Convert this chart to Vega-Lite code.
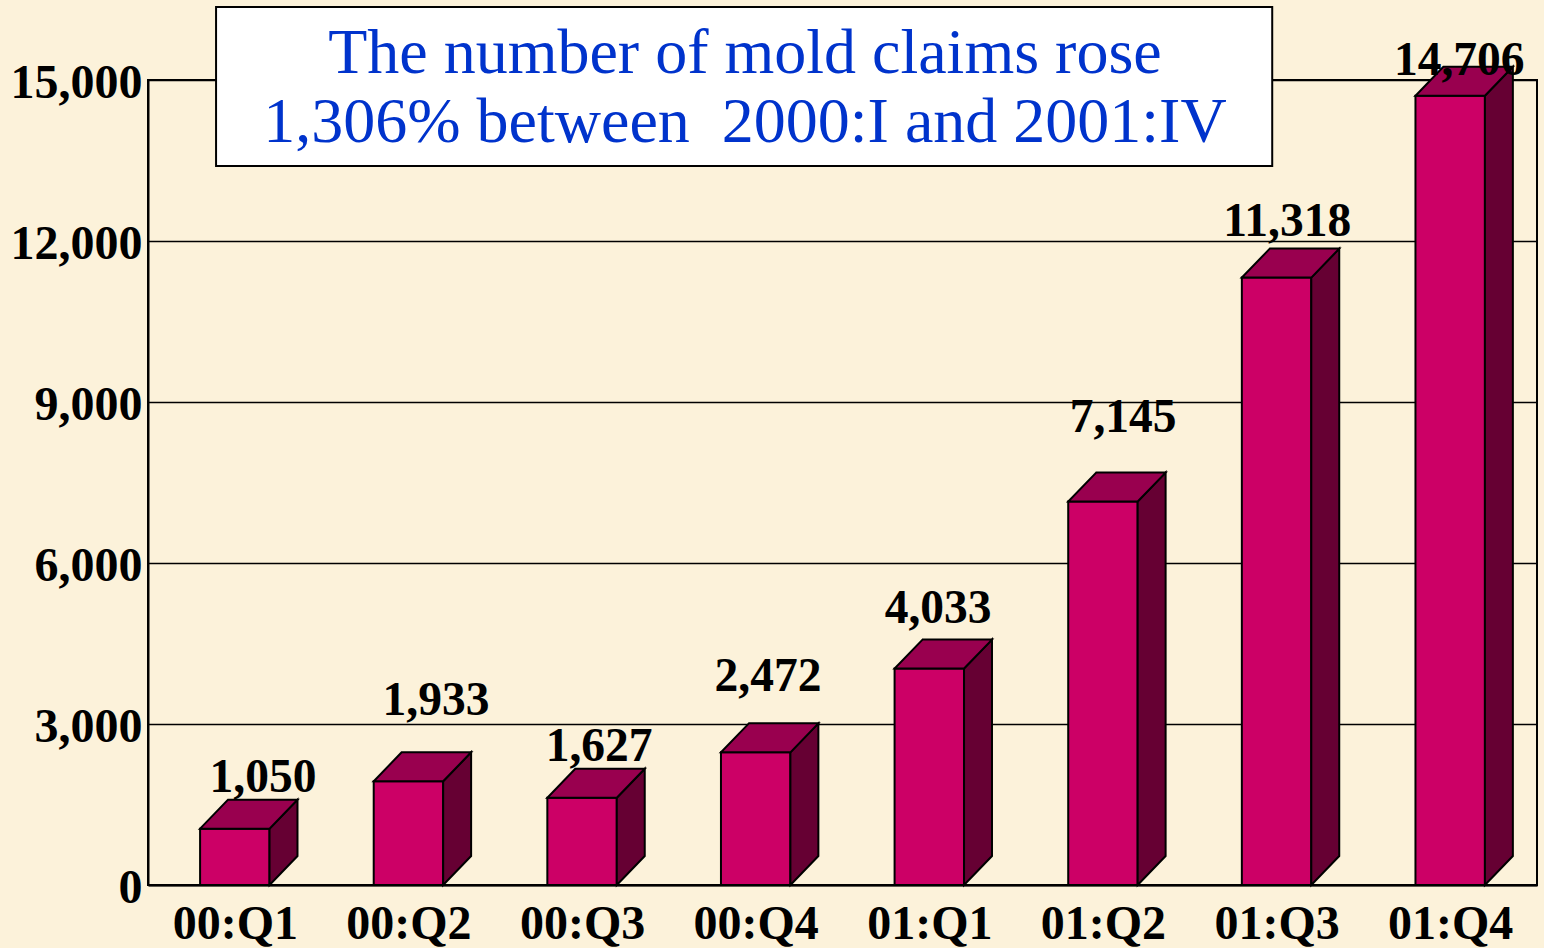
{
"$schema":"https://vega.github.io/schema/vega-lite/v6.json",
"width":1389,"height":805,
"autosize":"none",
"padding":{"left":148,"top":80,"right":7,"bottom":63},
"background":"#FCF2DA",
"config":{"view":{"stroke":"#000000","strokeWidth":2},"font":"Liberation Serif"},
"datasets":{
"claims":[
{"quarter":"00:Q1","claims":1050,"pos":0,"label_pos":0.162,"label_level":1730},
{"quarter":"00:Q2","claims":1933,"pos":1,"label_pos":1.159,"label_level":3170},
{"quarter":"00:Q3","claims":1627,"pos":2,"label_pos":2.098,"label_level":2310},
{"quarter":"00:Q4","claims":2472,"pos":3,"label_pos":3.071,"label_level":3620},
{"quarter":"01:Q1","claims":4033,"pos":4,"label_pos":4.051,"label_level":4880},
{"quarter":"01:Q2","claims":7145,"pos":5,"label_pos":5.116,"label_level":8440},
{"quarter":"01:Q3","claims":11318,"pos":6,"label_pos":6.061,"label_level":12100},
{"quarter":"01:Q4","claims":14706,"pos":7,"label_pos":7.052,"label_level":15090}
],
"note":[{"left":-0.108,"right":5.975,"top":16360,"bottom":13397}],
"noteText":[
{"line":"The number of mold claims rose","pos":2.938,"level":15130},
{"line":"1,306% between\u00a0 2000:I and 2001:IV","pos":2.938,"level":13840}
]
},
"layer":[
{"data":{"name":"claims"},
 "transform":[{"calculate":"datum.pos-0.2","as":"left"},{"calculate":"datum.pos+0.2","as":"right"}],
 "mark":{"type":"rect","fill":"#CC0066","stroke":"#000000","strokeWidth":2},
 "encoding":{
  "x":{"field":"left","type":"quantitative","scale":{"domain":[-0.5,7.5],"nice":false,"zero":false},
   "axis":{"title":null,"values":[0,1,2,3,4,5,6,7],"labelExpr":"['00:Q1','00:Q2','00:Q3','00:Q4','01:Q1','01:Q2','01:Q3','01:Q4'][datum.value]","grid":false,"ticks":false,"domainColor":"#000000","domainWidth":2,"labelFont":"Liberation Serif","labelFontWeight":"bold","labelFontSize":48,"labelColor":"#000000","labelPadding":15,"labelFlush":false,"labelOverlap":false,"labelBound":false}},
  "x2":{"field":"right"},
  "y":{"field":"claims","type":"quantitative","scale":{"domain":[0,15000],"nice":false},
   "axis":{"title":null,"values":[0,3000,6000,9000,12000,15000],"format":",d","grid":true,"gridColor":"#000000","gridWidth":1.5,"gridOpacity":1,"ticks":false,"domainColor":"#000000","domainWidth":2,"labelFont":"Liberation Serif","labelFontWeight":"bold","labelFontSize":48,"labelColor":"#000000","labelPadding":6,"labelOffset":3,"labelOverlap":false,"labelBound":false,"labelFlush":false}},
  "y2":{"datum":0}
 }},
{"data":{"name":"claims"},
 "transform":[
  {"calculate":"0","as":"near"},{"calculate":"1","as":"far"},
  {"fold":["near","far"],"as":["face","edge"]},
  {"calculate":"datum.pos+0.2+0.161*datum.edge","as":"sx"},
  {"calculate":"540*datum.edge","as":"low"},
  {"calculate":"datum.claims+540*datum.edge","as":"high"}],
 "mark":{"type":"area","fill":"#660033","stroke":"#000000","strokeWidth":2,"clip":false},
 "encoding":{
  "x":{"field":"sx","type":"quantitative"},
  "y":{"field":"low","type":"quantitative","stack":null},
  "y2":{"field":"high"},
  "detail":{"field":"quarter"}
 }},
{"data":{"name":"claims"},
 "transform":[
  {"calculate":"0","as":"near"},{"calculate":"1","as":"far"},
  {"fold":["near","far"],"as":["face","edge"]},
  {"calculate":"datum.pos-0.2+0.161*datum.edge","as":"tl"},
  {"calculate":"datum.pos+0.2+0.161*datum.edge","as":"tr"},
  {"calculate":"datum.claims+540*datum.edge","as":"level"}],
 "mark":{"type":"area","orient":"horizontal","fill":"#99004F","stroke":"#000000","strokeWidth":2,"clip":false},
 "encoding":{
  "y":{"field":"level","type":"quantitative"},
  "x":{"field":"tl","type":"quantitative","stack":null},
  "x2":{"field":"tr"},
  "detail":{"field":"quarter"}
 }},
{"data":{"name":"claims"},
 "mark":{"type":"text","font":"Liberation Serif","fontWeight":"bold","fontSize":47.5,"fill":"#000000","align":"center","baseline":"alphabetic"},
 "encoding":{
  "x":{"field":"label_pos","type":"quantitative"},
  "y":{"field":"label_level","type":"quantitative"},
  "text":{"field":"claims","type":"quantitative","format":",d"}
 }},
{"data":{"name":"note"},
 "mark":{"type":"rect","fill":"#FFFFFF","stroke":"#000000","strokeWidth":2},
 "encoding":{
  "x":{"field":"left","type":"quantitative"},
  "x2":{"field":"right"},
  "y":{"field":"top","type":"quantitative"},
  "y2":{"field":"bottom"}
 }},
{"data":{"name":"noteText"},
 "mark":{"type":"text","font":"Liberation Serif","fontSize":64,"fill":"#0033CC","align":"center","baseline":"alphabetic"},
 "encoding":{
  "x":{"field":"pos","type":"quantitative"},
  "y":{"field":"level","type":"quantitative"},
  "text":{"field":"line","type":"nominal"}
 }}
]
}
